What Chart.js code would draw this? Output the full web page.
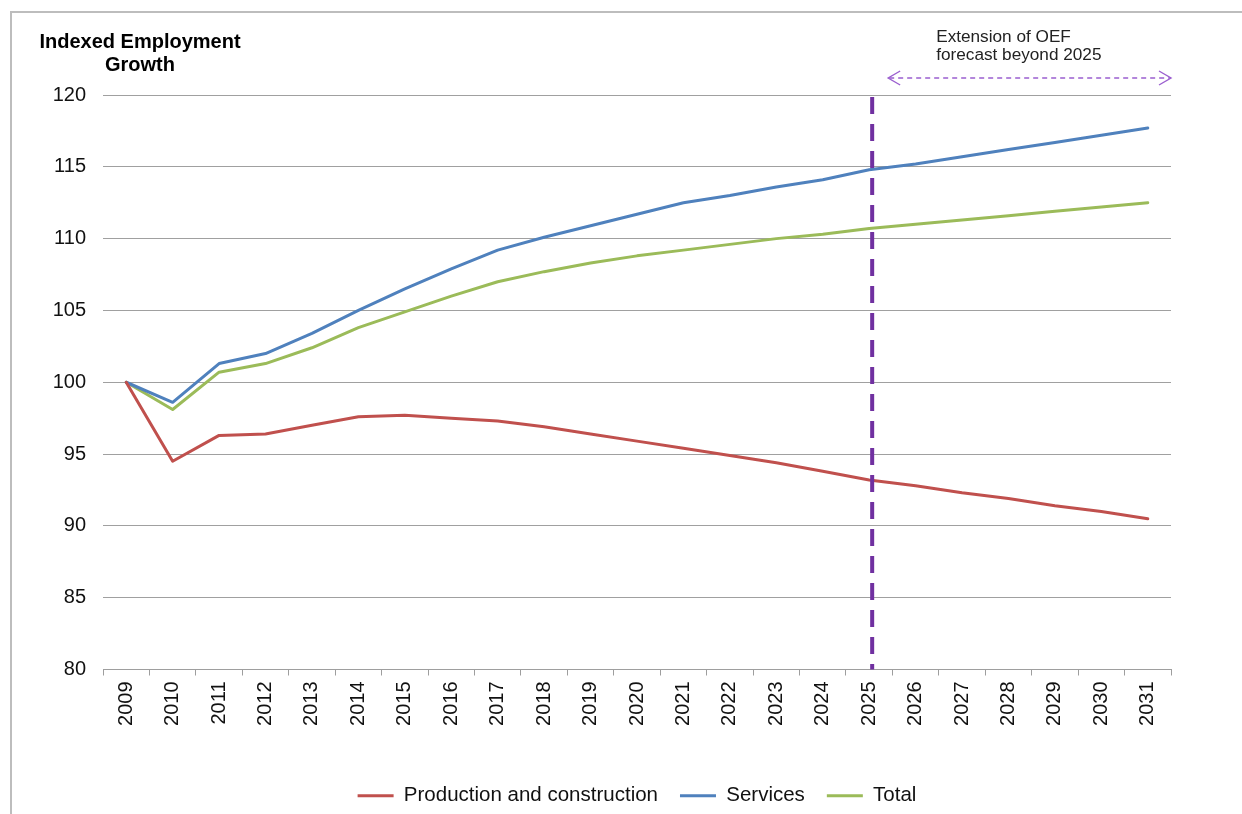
<!DOCTYPE html>
<html>
<head>
<meta charset="utf-8">
<script src="https://cdn.jsdelivr.net/npm/chart.js@4/dist/chart.umd.min.js"></script>
<style>
  html, body { margin: 0; padding: 0; background: #ffffff; }
  #wrap { width: 1242px; height: 814px; position: relative; }
</style>
</head>
<body>
<div id="wrap"><canvas id="c" width="1242" height="814"></canvas></div>
<script>
const years = ['2009','2010','2011','2012','2013','2014','2015','2016','2017','2018','2019','2020','2021','2022','2023','2024','2025','2026','2027','2028','2029','2030','2031'];
const production = [100, 94.5, 96.3, 96.4, 97.0, 97.6, 97.7, 97.5, 97.3, 96.9, 96.4, 95.9, 95.4, 94.9, 94.4, 93.8, 93.2, 92.8, 92.3, 91.9, 91.4, 91.0, 90.5];
const services   = [100, 98.6, 101.3, 102.0, 103.4, 105.0, 106.5, 107.9, 109.2, 110.1, 110.9, 111.7, 112.5, 113.0, 113.6, 114.1, 114.8, 115.2, 115.7, 116.2, 116.7, 117.2, 117.7];
const total      = [100, 98.1, 100.7, 101.3, 102.4, 103.8, 104.9, 106.0, 107.0, 107.7, 108.3, 108.8, 109.2, 109.6, 110.0, 110.3, 110.7, 111.0, 111.3, 111.6, 111.9, 112.2, 112.5];
const seriesNames = ['Production and construction', 'Services', 'Total'];
const yTitleLines = ['Indexed Employment', 'Growth'];
const noteLines = ['Extension of OEF', 'forecast beyond 2025'];
const markerYear = '2025';

const FONT = '"Liberation Sans", Arial, sans-serif';

const decor = {
  id: 'decor',
  beforeDraw(chart) {
    const ctx = chart.ctx;
    ctx.save();
    ctx.fillStyle = '#ffffff';
    ctx.fillRect(0, 0, chart.width, chart.height);
    ctx.strokeStyle = '#bdbdbd';
    ctx.lineWidth = 2;
    ctx.beginPath();
    ctx.moveTo(11, chart.height);
    ctx.lineTo(11, 12);
    ctx.lineTo(chart.width, 12);
    ctx.stroke();
    ctx.restore();
  },
  afterDatasetsDraw(chart) {
    const ctx = chart.ctx;
    const xs = chart.scales.x;
    const ca = chart.chartArea;
    const mx = xs.getPixelForValue(years.indexOf(markerYear)) + 3;
    ctx.save();
    ctx.strokeStyle = '#7030A0';
    ctx.lineWidth = 4;
    ctx.setLineDash([17, 10]);
    ctx.beginPath();
    ctx.moveTo(mx, ca.top + 2);
    ctx.lineTo(mx, ca.bottom);
    ctx.stroke();
    const ay = ca.top - 17;
    const ax1 = mx + 16, ax2 = ca.right;
    ctx.strokeStyle = '#9B5FCF';
    ctx.lineWidth = 1.4;
    ctx.setLineDash([5, 4]);
    ctx.beginPath();
    ctx.moveTo(ax1 + 1, ay);
    ctx.lineTo(ax2 - 1, ay);
    ctx.stroke();
    ctx.setLineDash([]);
    ctx.beginPath();
    ctx.moveTo(ax1 + 12, ay - 7);
    ctx.lineTo(ax1, ay);
    ctx.lineTo(ax1 + 12, ay + 7);
    ctx.moveTo(ax2 - 12, ay - 7);
    ctx.lineTo(ax2, ay);
    ctx.lineTo(ax2 - 12, ay + 7);
    ctx.stroke();
    ctx.fillStyle = '#222222';
    ctx.font = '17.2px ' + FONT;
    ctx.textAlign = 'left';
    ctx.textBaseline = 'middle';
    ctx.fillText(noteLines[0], mx + 64, 37);
    ctx.fillText(noteLines[1], mx + 64, 55);
    ctx.fillStyle = '#000000';
    ctx.font = 'bold 20px ' + FONT;
    ctx.textAlign = 'center';
    ctx.fillText(yTitleLines[0], 140, 42);
    ctx.fillText(yTitleLines[1], 140, 65);
    ctx.restore();
  }
};

new Chart(document.getElementById('c'), {
  type: 'line',
  data: {
    labels: years,
    datasets: [
      { label: seriesNames[0], data: production, borderColor: '#C0504D', backgroundColor: '#C0504D', borderWidth: 3 },
      { label: seriesNames[1], data: services, borderColor: '#4F81BD', backgroundColor: '#4F81BD', borderWidth: 3 },
      { label: seriesNames[2], data: total, borderColor: '#9BBB59', backgroundColor: '#9BBB59', borderWidth: 3 }
    ]
  },
  options: {
    responsive: false,
    animation: false,
    devicePixelRatio: 1,
    elements: {
      line: { borderWidth: 3, tension: 0, borderCapStyle: 'round', borderJoinStyle: 'round' },
      point: { radius: 0, hoverRadius: 0 }
    },
    layout: { padding: { left: 0, right: 71, top: 95, bottom: -2 } },
    plugins: {
      tooltip: { enabled: false },
      legend: {
        position: 'bottom',
        fullSize: false,
        labels: {
          usePointStyle: true,
          pointStyle: 'line',
          pointStyleWidth: 36,
          boxHeight: 20,
          padding: 22,
          color: '#111111',
          font: { family: FONT, size: 20.5 }
        }
      }
    },
    scales: {
      x: {
        offset: true,
        afterFit(s) { s.height = 94; },
        grid: { offset: true, drawOnChartArea: false, drawTicks: true, tickLength: 6, color: '#9e9e9e' },
        border: { display: true, color: '#9e9e9e', width: 1 },
        ticks: {
          autoSkip: false, minRotation: 90, maxRotation: 90, padding: 6,
          color: '#111111', font: { family: FONT, size: 20 }
        }
      },
      y: {
        min: 80, max: 120,
        afterFit(s) { s.width = 103; },
        grid: { color: '#a0a0a0', drawTicks: false, lineWidth: 1 },
        border: { display: false },
        ticks: { stepSize: 5, padding: 17, color: '#111111', font: { family: FONT, size: 20 } }
      }
    }
  },
  plugins: [decor]
});
</script>
</body>
</html>
